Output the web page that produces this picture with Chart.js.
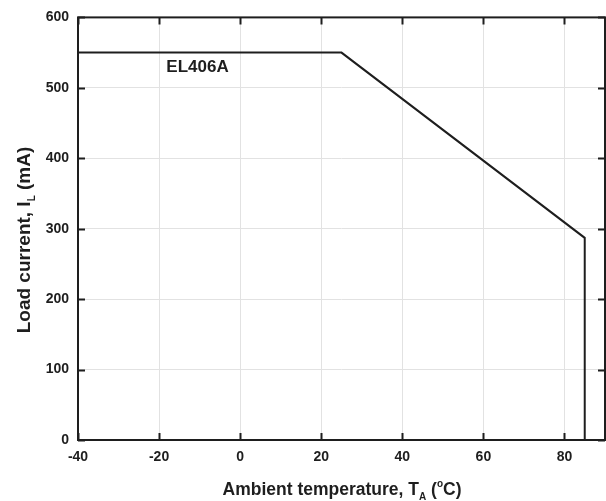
<!DOCTYPE html>
<html>
<head>
<meta charset="utf-8">
<script src="https://cdn.jsdelivr.net/npm/chart.js@4.4.1/dist/chart.umd.min.js"></script>
<style>
  body { margin: 0; background: #fff; }
  canvas { display: block; }
</style>
</head>
<body>
<canvas id="derating" width="606" height="501"></canvas>
<script>
// --- Data ---
const ambientTemp = [-40, 25, 85, 85];      // degC
const loadCurrent = [550, 550, 287, 0];     // mA
const xTicks = [-40, -20, 0, 20, 40, 60, 80];
const yTicks = [0, 100, 200, 300, 400, 500, 600];
const curveLabel = 'EL406A';

const INK = '#1e1e1e';
const FONT = '"Liberation Sans", Arial, sans-serif';

// draws frame, inner tick marks, curve label and axis titles (sub/superscripts)
const decorPlugin = {
    id: 'decor',
    afterDatasetsDraw(chart) {
        const { ctx, chartArea: a, scales: { x, y } } = chart;
        ctx.save();

        // frame
        ctx.strokeStyle = INK;
        ctx.lineWidth = 2;
        ctx.strokeRect(a.left, a.top, a.right - a.left, a.bottom - a.top);

        // inward tick marks on all four sides
        const len = 7;
        ctx.beginPath();
        xTicks.forEach(v => {
            const px = Math.round(x.getPixelForValue(v)) + 0.5;
            ctx.moveTo(px, a.bottom); ctx.lineTo(px, a.bottom - len);
            ctx.moveTo(px, a.top); ctx.lineTo(px, a.top + len);
        });
        yTicks.forEach(v => {
            const py = Math.round(y.getPixelForValue(v)) + 0.5;
            ctx.moveTo(a.left, py); ctx.lineTo(a.left + len, py);
            ctx.moveTo(a.right, py); ctx.lineTo(a.right - len, py);
        });
        ctx.stroke();

        // curve label
        ctx.fillStyle = INK;
        ctx.font = 'bold 17px ' + FONT;
        ctx.textAlign = 'left';
        ctx.textBaseline = 'middle';
        ctx.fillText(curveLabel, x.getPixelForValue(-18.2), y.getPixelForValue(529));

        // x axis title: Ambient temperature, T_A (°C)
        drawRich(ctx, [
            ['Ambient temperature, T', 0],
            ['A', 1],
            [' (', 0],
            ['o', -1],
            ['C)', 0]
        ], 342, 489, 0, 17.5);

        // y axis title: Load current, I_L (mA)
        drawRich(ctx, [
            ['Load current, I', 0],
            ['L', 1],
            [' (mA)', 0]
        ], 23, 240, -Math.PI / 2, 19);

        ctx.restore();
    }
};

// parts: [text, mode] mode 0 normal, 1 subscript, -1 superscript
function drawRich(ctx, parts, cx, cy, angle, size) {
    const big = 'bold ' + size + 'px ' + FONT;
    const small = 'bold ' + Math.round(size * 0.55) + 'px ' + FONT;
    let total = 0;
    parts.forEach(p => {
        ctx.font = p[1] === 0 ? big : small;
        total += ctx.measureText(p[0]).width;
    });
    ctx.save();
    ctx.translate(cx, cy);
    ctx.rotate(angle);
    ctx.textBaseline = 'alphabetic';
    ctx.textAlign = 'left';
    ctx.fillStyle = INK;
    const base = size * 0.36;
    let px = -total / 2;
    parts.forEach(p => {
        ctx.font = p[1] === 0 ? big : small;
        const dy = p[1] === 1 ? base + size * 0.25 : (p[1] === -1 ? base - size * 0.5 : base);
        ctx.fillText(p[0], px, dy);
        px += ctx.measureText(p[0]).width;
    });
    ctx.restore();
}

new Chart(document.getElementById('derating'), {
    type: 'line',
    data: {
        datasets: [{
            data: ambientTemp.map((t, i) => ({ x: t, y: loadCurrent[i] })),
            borderColor: INK,
            borderWidth: 2,
            pointRadius: 0,
            tension: 0,
            fill: false
        }]
    },
    options: {
        responsive: false,
        animation: false,
        layout: { padding: { top: 10, right: 1, left: 0, bottom: 0 } },
        plugins: {
            legend: { display: false },
            tooltip: { enabled: false }
        },
        scales: {
            x: {
                type: 'linear',
                min: -40,
                max: 90,
                afterBuildTicks: s => { s.ticks = xTicks.map(v => ({ value: v })); },
                afterFit: s => { s.height = 61; },
                grid: { color: '#e2e2e2', drawTicks: false },
                border: { display: false },
                ticks: {
                    padding: 9,
                    color: INK,
                    font: { family: FONT, size: 14, weight: 'bold' }
                }
            },
            y: {
                min: 0,
                max: 600,
                afterBuildTicks: s => { s.ticks = yTicks.map(v => ({ value: v })); },
                afterFit: s => { s.width = 78; },
                grid: { color: '#e2e2e2', drawTicks: false },
                border: { display: false },
                ticks: {
                    padding: 9,
                    color: INK,
                    font: { family: FONT, size: 14, weight: 'bold' }
                }
            }
        }
    },
    plugins: [decorPlugin]
});
</script>
</body>
</html>
